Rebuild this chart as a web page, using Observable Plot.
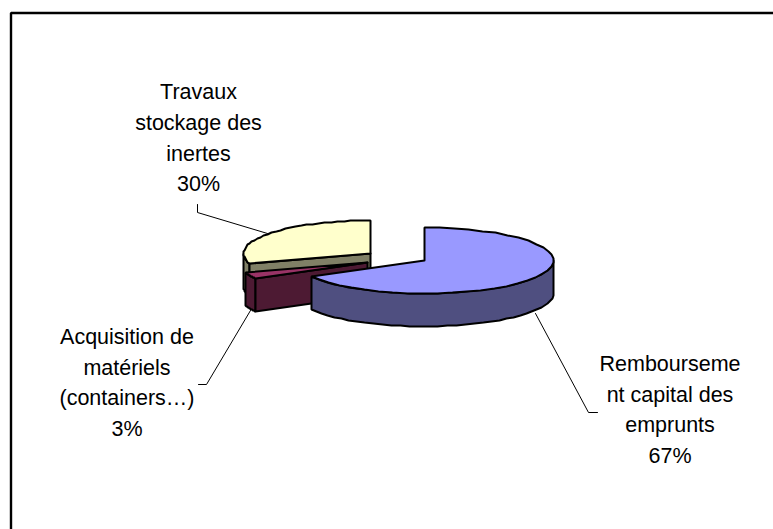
<!DOCTYPE html>
<html><head><meta charset="utf-8">
<script src="https://cdn.jsdelivr.net/npm/d3@7"></script>
<script src="https://cdn.jsdelivr.net/npm/@observablehq/plot@0.6"></script>
<style>html,body{margin:0;padding:0;background:#fff}svg{display:block}</style>
</head><body><div id="chart"></div>
<script>
const categories = ["Remboursement capital des emprunts", "Acquisition de matériels (containers…)", "Travaux stockage des inertes"];
const percents = [67, 3, 30];
const labelLines = ["Rembourseme\nnt capital des\nemprunts", "Acquisition de\nmatériels\n(containers…)", "Travaux\nstockage des\ninertes"];
const topColors = ["#9999ff", "#993366", "#ffffcc"];
const sideColors = ["#4f4f80", "#4d1a33", "#808066"];
const centerX = [424, 367, 370];
const centerY = [260, 262, 253];
const radiusX = [129, 128, 127];
const radiusY = [33, 33, 33];
const depth = 33;
const labelX = [669.5, 126.5, 198];
const labelY = [406.5, 379.5, 135];
const leaderX = [[535, 588, 597], [250, 206, 198], [197, 197, 267]];
const leaderY = [[313, 412, 412], [310, 384, 384], [204, 212, 233]];

let a = 0;
const slices = percents.map((p, i) => { const s = {i, a0: a, a1: a + p / 100 * 2 * Math.PI}; a = s.a1; return s; });
const pt = (i, t, d = 0) => ({x: Math.round(centerX[i] + radiusX[i] * Math.sin(t)), y: Math.round(centerY[i] - radiusY[i] * Math.cos(t) + d)});
const arc = (i, t0, t1, d = 0) => d3.range(0, 37).map(k => pt(i, t0 + (t1 - t0) * k / 36, d));
const apex = (i, d = 0) => ({x: centerX[i], y: centerY[i] + d});

const polys = [];
let layerId = 0;
const layer = (pts, fill) => { const id = layerId++; [...pts, pts[0]].forEach(p => polys.push({...p, id, fill})); };

const [blue, purple, yellow] = slices;
// yellow: outer wall, radial wall, top
layer([...arc(2, yellow.a0, 1.5 * Math.PI), ...arc(2, 1.5 * Math.PI, yellow.a0, depth)], sideColors[2]);
layer([apex(2), pt(2, yellow.a0), pt(2, yellow.a0, depth), apex(2, depth)], sideColors[2]);
layer([apex(2), ...arc(2, yellow.a0, yellow.a1)], topColors[2]);
// purple: outer wall, radial wall, top
layer([...arc(1, purple.a0, purple.a1), ...arc(1, purple.a1, purple.a0, depth)], sideColors[1]);
layer([apex(1), pt(1, purple.a0), pt(1, purple.a0, depth), apex(1, depth)], sideColors[1]);
layer([apex(1), ...arc(1, purple.a0, purple.a1)], topColors[1]);
// blue: outer wall, top
layer([...arc(0, Math.PI / 2, blue.a1), ...arc(0, blue.a1, Math.PI / 2, depth)], sideColors[0]);
layer([apex(0), ...arc(0, blue.a0, blue.a1)], topColors[0]);

const labels = categories.map((c, i) => ({x: labelX[i], y: labelY[i], text: labelLines[i] + "\n" + percents[i] + "%"}));
const leaders = leaderX.flatMap((xs, i) => xs.map((x, k) => ({x, y: leaderY[i][k], i})));
const frame = [{x: 10.5, y: 529}, {x: 10.5, y: 12.5}, {x: 773, y: 12.5}];

const plot = Plot.plot({
  width: 773, height: 529, margin: 0,
  x: {domain: [0, 773], range: [0, 773], axis: null},
  y: {domain: [0, 529], range: [0, 529], axis: null},
  marks: [
    Plot.line(frame, {x: "x", y: "y", stroke: "#000", strokeWidth: 2.4, strokeLinejoin: "miter"}),
    Plot.line(leaders, {x: "x", y: "y", z: "i", stroke: "#000", strokeWidth: 1, curve: "linear"}),
    Plot.line(polys, {x: "x", y: "y", z: "id", fill: "fill", stroke: "#000", strokeWidth: 2, strokeLinejoin: "miter", curve: "linear"}),
    Plot.text(labels, {x: "x", y: "y", text: "text", textAnchor: "middle", lineAnchor: "middle", lineHeight: 1.42, fontSize: 21.5, fontFamily: "Liberation Sans, Arial, sans-serif", fill: "#000"})
  ]
});
document.getElementById("chart").append(plot);
</script></body></html>
